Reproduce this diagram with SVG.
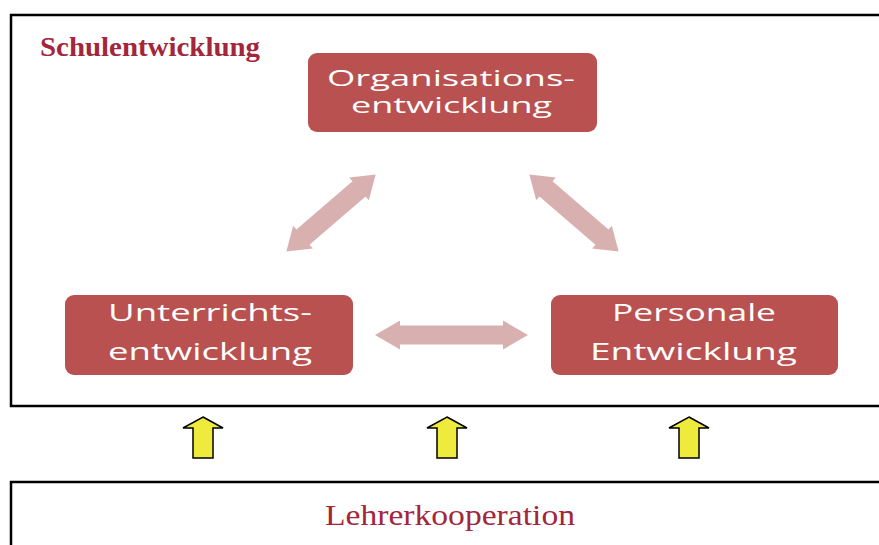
<svg xmlns="http://www.w3.org/2000/svg" width="879" height="545" viewBox="0 0 879 545">
  <style>
    .frame { fill: #ffffff; stroke: #000000; stroke-width: 2.5; }
    .box { fill: #B85150; }
    .boxtext { font-family: "Open Sans", "Noto Sans", sans-serif; font-size: 23px; fill: #ffffff; }
    .tight { font-size: 21.5px; }
    .heading { font-family: "Liberation Serif", serif; fill: #A3263A; }
    .link { fill: #D9B0B0; }
    .up { fill: #EFEB3C; stroke: #000000; stroke-width: 1.5; stroke-linejoin: miter; }
  </style>
  <defs>
    <!-- double-headed arrow, horizontal, centred on the origin -->
    <path id="dbl153" d="M -76.5,0 L -51.5,-14.5 L -51.5,-9.5 L 51.5,-9.5 L 51.5,-14.5 L 76.5,0 L 51.5,14.5 L 51.5,9.5 L -51.5,9.5 L -51.5,14.5 Z"/>
    <path id="dbl116" d="M -59,0 L -37,-15 L -37,-10 L 37,-10 L 37,-15 L 59,0 L 37,15 L 37,10 L -37,10 L -37,15 Z"/>
    <!-- block arrow pointing up, tip at origin -->
    <path id="uparrow" d="M 0,0 L 20,11 L 10,11 L 10,41 L -10,41 L -10,11 L -20,11 Z"/>
  </defs>

  <rect width="879" height="545" fill="#ffffff"/>

  <!-- outer frame: school development -->
  <g id="schulentwicklung">
    <rect class="frame" x="11" y="15" width="880" height="391"/>
    <text class="heading" x="40" y="56" font-size="27" font-weight="bold" textLength="220" lengthAdjust="spacingAndGlyphs">Schulentwicklung</text>
  </g>

  <!-- connectors between the three development areas -->
  <g id="connectors">
    <use href="#dbl153" class="link" transform="translate(451.5,335)"/>
    <use href="#dbl116" class="link" transform="translate(331,213) rotate(-40.8)"/>
    <use href="#dbl116" class="link" transform="translate(574,213) rotate(40.8)"/>
  </g>

  <g id="organisationsentwicklung">
    <rect class="box" x="308" y="53" width="289" height="79" rx="9"/>
    <text class="boxtext tight" x="327" y="86" textLength="248" lengthAdjust="spacingAndGlyphs">Organisations-</text>
    <text class="boxtext tight" x="351" y="113" textLength="201" lengthAdjust="spacingAndGlyphs">entwicklung</text>
  </g>

  <g id="unterrichtsentwicklung">
    <rect class="box" x="65" y="295" width="288" height="80" rx="9"/>
    <text class="boxtext" x="108" y="321" textLength="204" lengthAdjust="spacingAndGlyphs">Unterrichts-</text>
    <text class="boxtext" x="108" y="360" textLength="204" lengthAdjust="spacingAndGlyphs">entwicklung</text>
  </g>

  <g id="personale-entwicklung">
    <rect class="box" x="551" y="295" width="287" height="80" rx="9"/>
    <text class="boxtext" x="612" y="321" textLength="164" lengthAdjust="spacingAndGlyphs">Personale</text>
    <text class="boxtext" x="590" y="360" textLength="207" lengthAdjust="spacingAndGlyphs">Entwicklung</text>
  </g>

  <!-- upward arrows from teacher cooperation -->
  <g id="support-arrows">
    <use href="#uparrow" class="up" transform="translate(203,417)"/>
    <use href="#uparrow" class="up" transform="translate(447,417)"/>
    <use href="#uparrow" class="up" transform="translate(689,417)"/>
  </g>

  <g id="lehrerkooperation">
    <rect class="frame" x="11" y="482" width="880" height="100"/>
    <text class="heading" x="325" y="525" font-size="29" textLength="250" lengthAdjust="spacingAndGlyphs">Lehrerkooperation</text>
  </g>
</svg>
